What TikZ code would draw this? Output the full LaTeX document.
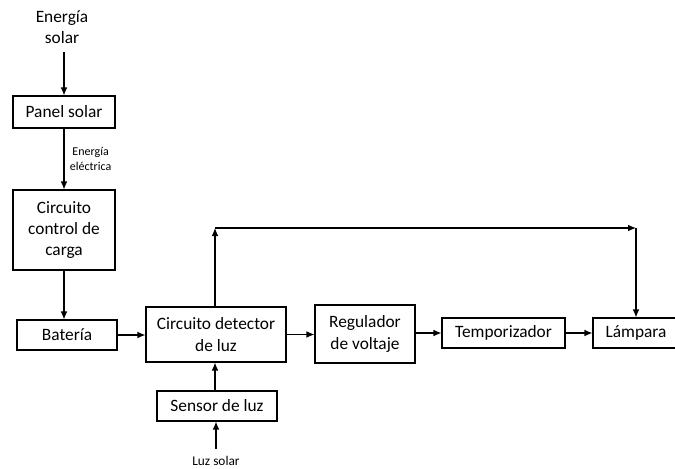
\documentclass[tikz,border=0pt]{standalone}
\usepackage{fontspec}
\setmainfont{Carlito}
\usetikzlibrary{positioning,arrows.meta}

\tikzset{
  block/.style={draw, line width=.8pt, align=center, inner sep=1pt, font=\fontsize{13}{16}\selectfont},
  txt/.style={align=center, inner sep=0pt, font=\fontsize{13}{16}\selectfont},
  small/.style={align=center, inner sep=0pt, font=\fontsize{9}{11}\selectfont},
  flow/.style={->, line width=.8pt}
}

\begin{document}
\begin{tikzpicture}[x=.75pt, y=-.75pt, >={Latex[length=6pt,width=5pt]}]
  \useasboundingbox (0,0) rectangle (675,468);

  % left column
  \node[txt] (esolar) at (62,27) {Energía\\solar};
  \node[block, minimum width=76.5pt, minimum height=24pt] (panel) at (64,112) {Panel solar};
  \node[block, minimum width=76.5pt, minimum height=60pt] (control) at (64,230) {Circuito\\control de\\carga};
  \node[block, minimum width=75pt, minimum height=22.5pt] (bateria) at (67,335) {Batería};

  % main row
  \node[block, minimum width=105pt, minimum height=41.25pt] (detector) at (216,334.5) {Circuito detector\\de luz};
  \node[block, minimum width=75pt, minimum height=43.5pt] (regulador) at (365,334) {Regulador\\de voltaje};
  \node[block, minimum width=92.25pt, minimum height=22.5pt] (tempo) at (503.5,333) {Temporizador};
  \node[block, minimum width=64.5pt, minimum height=22.5pt] (lampara) at (636,333) {Lámpara};

  % sensor
  \node[block, minimum width=90pt, minimum height=22.5pt] (sensor) at (217,406) {Sensor de luz};
  \node[small, font=\fontsize{10}{12}\selectfont] (luz) at (216,461) {Luz solar};

  \coordinate (src) at (panel.north |- 0,52);
  \coordinate (up) at (215,228);
  \coordinate (corner) at (lampara.north |- up);
  \coordinate (luzin) at (216,449);

  \draw[flow] (src) -- (panel.north);
  \draw[flow] (panel.south) -- node[small, right=4pt] {Energía\\eléctrica} (control.north);
  \draw[flow] (control.south) -- (control.south |- bateria.north);
  \draw[flow] (bateria.east) -- (bateria.east -| detector.west);
  \draw[flow] (detector.east) -- (detector.east -| regulador.west);
  \draw[flow] (regulador.east |- tempo.west) -- (tempo.west);
  \draw[flow] (tempo.east) -- (lampara.west);
  \draw[flow] (up |- detector.north) -- (up);
  \draw[flow] (up) -- (corner);
  \draw[flow] (corner) -- (lampara.north);
  \draw[flow] (sensor.north -| up) -- (detector.south -| up);
  \draw[flow] (luzin) -- (luzin |- sensor.south);
\end{tikzpicture}
\end{document}
